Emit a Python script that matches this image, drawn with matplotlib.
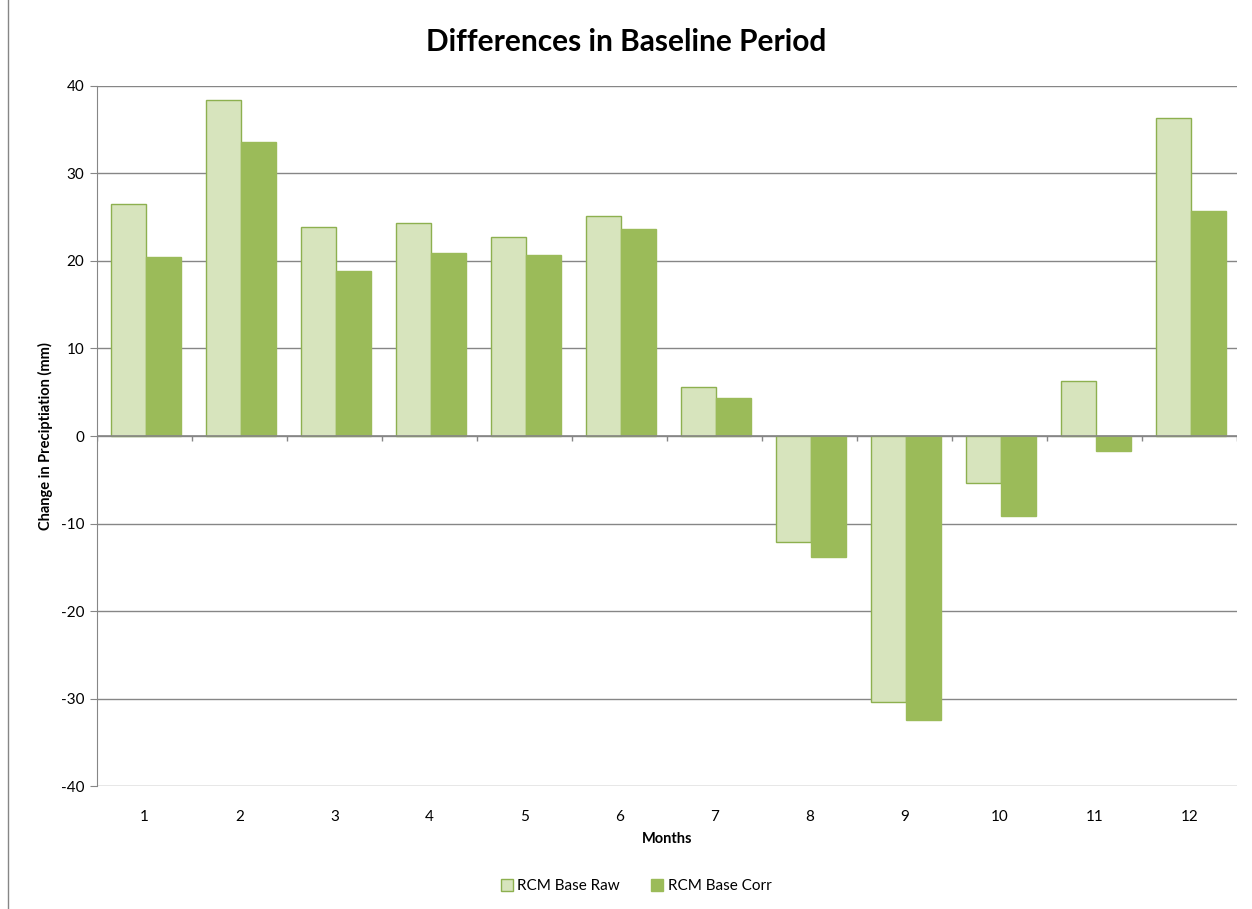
import numpy as np
import matplotlib
matplotlib.use("Agg")
import matplotlib.pyplot as plt

plt.rcParams['font.family'] = ['Lato', 'DejaVu Sans']
plt.rcParams['axes.unicode_minus'] = False

months = list(range(1, 13))
base_raw = [26.5, 38.4, 23.9, 24.3, 22.7, 25.1, 5.6, -12.1, -30.4, -5.4, 6.3, 36.3]
base_corr = [20.5, 33.6, 18.9, 20.9, 20.7, 23.7, 4.3, -13.8, -32.5, -9.1, -1.7, 25.7]

fig = plt.figure(figsize=(12.52, 9.09), dpi=100)
ax = fig.add_axes([0.0775, 0.1353, 0.9105, 0.7701])

x = np.array(months)
w = 0.368
ax.bar(x - w / 2 + 0.02, base_raw, width=w, color='#D7E4BD', edgecolor='#8DB04F',
       linewidth=1, label='RCM Base Raw', zorder=3)
ax.bar(x + w / 2 + 0.02, base_corr, width=w, color='#9BBB59', edgecolor='#9BBB59',
       linewidth=1, label='RCM Base Corr', zorder=3)

ax.set_xlim(0.5, 12.5)
ax.set_ylim(-40, 40)
ax.set_yticks(range(-40, 41, 10))
ax.yaxis.grid(True, color='#868686', linewidth=1, zorder=0)
ax.set_axisbelow(True)

for s in ['top', 'right', 'bottom']:
    ax.spines[s].set_visible(False)
ax.spines['left'].set_color('#868686')
ax.tick_params(axis='y', color='#868686', length=5, labelsize=11, pad=4)

# zero axis line with category boundary ticks
ax.axhline(0, color='#868686', linewidth=1.2, zorder=4)
ax.vlines(np.arange(0.5, 13.0, 1.0), -0.6, 0, color='#868686', linewidth=1, zorder=4)

ax.set_xticks(months)
ax.set_xticklabels([str(m) for m in months])
ax.tick_params(axis='x', length=0, labelsize=11, pad=17)

ax.set_xlabel('Months', fontsize=10.5, fontweight='bold', labelpad=6)
ax.set_ylabel('Change in Preciptiation (mm)', fontsize=10.5, fontweight='bold', labelpad=6)
fig.suptitle('Differences in Baseline Period', fontsize=21.5, fontweight='bold', y=0.969)

fig.legend(loc='center', bbox_to_anchor=(0.508, 0.025), ncol=2, frameon=False,
           fontsize=11, handlelength=0.8, handleheight=0.8, handletextpad=0.3,
           columnspacing=2.0)

fig.add_artist(plt.Line2D([0.0065, 0.0065], [0, 1], color='#868686', linewidth=1))

fig.savefig('out.png', dpi=100)
